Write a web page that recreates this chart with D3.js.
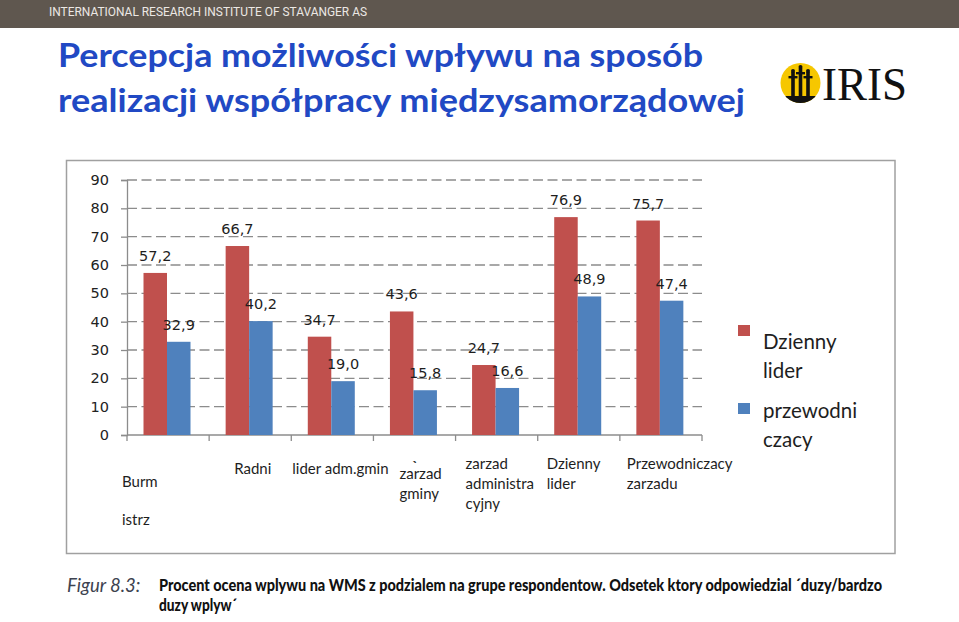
<!DOCTYPE html>
<html>
<head>
<meta charset="utf-8">
<script src="https://cdn.jsdelivr.net/npm/d3@7"></script>
<style>
  html, body { margin: 0; padding: 0; background: #ffffff; }
  svg { display: block; }
</style>
</head>
<body>
<svg id="chart" width="959" height="622"></svg>
<script>
// ---------- data ----------
const categories = ["Burmistrz", "Radni", "lider adm.gmin", "zarzad gminy", "zarzad administracyjny", "Dzienny lider", "Przewodniczacy zarzadu"];
const categoryLines = [["Burm", "istrz"], ["Radni"], ["lider adm.gmin"], ["zarzad", "gminy"], ["zarzad", "administra", "cyjny"], ["Dzienny", "lider"], ["Przewodniczacy", "zarzadu"]];
const seriesNames = ["Dzienny lider", "przewodniczacy"];
const legendLines = [["Dzienny", "lider"], ["przewodni", "czacy"]];
const dziennyLider = [57.2, 66.7, 34.7, 43.6, 24.7, 76.9, 75.7];
const przewodniczacy = [32.9, 40.2, 19.0, 15.8, 16.6, 48.9, 47.4];
const yTicks = [0, 10, 20, 30, 40, 50, 60, 70, 80, 90];

// ---------- layout (positions only) ----------
const labelDx = [-5, 25, 1, 26, 10, 9, 7];
const labelY = [487, 474, 474, 479, 469, 469, 469];
const labelLH = [38, 20, 20, 20, 20, 20, 20];
const colors = ["#c0504d", "#4f81bd"];

const svg = d3.select("#chart");

// header bar
svg.append("rect").attr("x", 0).attr("y", 0).attr("width", 959).attr("height", 28).attr("fill", "#5f574f");
svg.append("text").attr("x", 49).attr("y", 15.5)
  .attr("font-family", "Roboto, 'DejaVu Sans', sans-serif").attr("font-size", 13.5)
  .attr("fill", "#ece8e4").attr("textLength", 318).attr("lengthAdjust", "spacingAndGlyphs")
  .text("INTERNATIONAL RESEARCH INSTITUTE OF STAVANGER AS");

// title
const titleLines = ["Percepcja możliwości wpływu na sposób", "realizacji współpracy międzysamorządowej"];
const titleLen = [645, 687];
titleLines.forEach((t, i) => {
  svg.append("text").attr("x", 58).attr("y", 67 + i * 45)
    .attr("font-family", "Lato, 'Open Sans', sans-serif").attr("font-weight", "bold")
    .attr("font-size", 33).attr("fill", "#2149c4")
    .attr("textLength", titleLen[i]).attr("lengthAdjust", "spacingAndGlyphs")
    .text(t);
});

// IRIS logo
const logo = svg.append("g");
const defs = svg.append("defs");
defs.append("clipPath").attr("id", "logoClip").append("circle").attr("cx", 800.5).attr("cy", 83).attr("r", 20);
logo.append("circle").attr("cx", 800.5).attr("cy", 83).attr("r", 20).attr("fill", "#f6c700");
const lc = logo.append("g").attr("clip-path", "url(#logoClip)");
lc.append("rect").attr("x", 780).attr("y", 96).attr("width", 42).attr("height", 10).attr("fill", "#111");
[[793, 72], [800.5, 68], [808, 72]].forEach(([sx, sy]) => {
  lc.append("rect").attr("x", sx - 1.8).attr("y", sy).attr("width", 3.6).attr("height", 98 - sy).attr("fill", "#111");
  lc.append("rect").attr("x", sx - 4.5).attr("y", sy + 4).attr("width", 9).attr("height", 2.4).attr("fill", "#111");
  lc.append("circle").attr("cx", sx).attr("cy", sy - 1).attr("r", 2).attr("fill", "#111");
});
logo.append("text").attr("x", 822).attr("y", 100)
  .attr("font-family", "'Liberation Serif', 'DejaVu Serif', serif").attr("font-size", 47)
  .attr("fill", "#111").attr("textLength", 85).attr("lengthAdjust", "spacingAndGlyphs").text("IRIS");

// chart box
svg.append("rect").attr("x", 66.5).attr("y", 160.5).attr("width", 828.5).attr("height", 393)
  .attr("fill", "#ffffff").attr("stroke", "#a0a0a0").attr("stroke-width", 1.5);

// scales
const x0 = d3.scaleBand().domain(categories).range([127, 702]).paddingInner(0).paddingOuter(0);
const x1 = d3.scaleBand().domain(seriesNames).range([16.5, 63.5]);
const y = d3.scaleLinear().domain([0, 90]).range([435, 180]);

// gridlines
svg.append("g").selectAll("line").data(yTicks.filter(d => d > 0)).join("line")
  .attr("x1", 127).attr("x2", 702)
  .attr("y1", d => y(d)).attr("y2", d => y(d))
  .attr("stroke", "#8c8c8c").attr("stroke-width", 1.3).attr("stroke-dasharray", "10,4.5");

// y axis
const yAxis = svg.append("g").attr("transform", "translate(127,0)")
  .call(d3.axisLeft(y).tickValues(yTicks).tickSize(6).tickPadding(12).tickFormat(d3.format("d")));
yAxis.select(".domain").attr("stroke", "#8c8c8c").attr("stroke-width", 1.3);
yAxis.selectAll(".tick line").attr("stroke", "#8c8c8c").attr("stroke-width", 1.3);
yAxis.selectAll(".tick text").attr("font-family", "'DejaVu Sans', Verdana, sans-serif")
  .attr("font-size", 14.5).attr("fill", "#222");

// x axis
const xAxis = svg.append("g").attr("transform", "translate(0,435)");
xAxis.append("line").attr("x1", 127).attr("x2", 702).attr("y1", 0).attr("y2", 0)
  .attr("stroke", "#8c8c8c").attr("stroke-width", 1.3);
const boundaries = categories.map(c => x0(c)).concat([x0(categories[categories.length - 1]) + x0.bandwidth()]);
xAxis.selectAll("line.tk").data(boundaries).join("line").attr("class", "tk")
  .attr("x1", d => d).attr("x2", d => d).attr("y1", 0).attr("y2", 6)
  .attr("stroke", "#8c8c8c").attr("stroke-width", 1.3);

// bars
const seriesData = [dziennyLider, przewodniczacy];
const barData = [];
categories.forEach((c, i) => {
  seriesNames.forEach((s, j) => barData.push({ c, s, j, v: seriesData[j][i] }));
});
svg.append("g").selectAll("rect").data(barData).join("rect")
  .attr("x", d => x0(d.c) + x1(d.s))
  .attr("width", x1.bandwidth())
  .attr("y", d => y(d.v))
  .attr("height", d => y(0) - y(d.v))
  .attr("fill", d => colors[d.j]);

// value labels
const fmt = v => v.toFixed(1).replace(".", ",");
svg.append("g").selectAll("text").data(barData).join("text")
  .attr("x", d => x0(d.c) + x1(d.s) + x1.bandwidth() / 2)
  .attr("y", d => y(d.v) - 12)
  .attr("text-anchor", "middle")
  .attr("font-family", "'DejaVu Sans', Verdana, sans-serif").attr("font-size", 14.5)
  .attr("fill", "#1e1e1e")
  .text(d => fmt(d.v));

// category labels
categories.forEach((c, i) => {
  const t = svg.append("text")
    .attr("font-family", "Lato, 'Open Sans', sans-serif").attr("font-size", 15).attr("fill", "#1e1e1e");
  categoryLines[i].forEach((line, k) => {
    t.append("tspan").attr("x", x0(c) + labelDx[i]).attr("y", labelY[i] + k * labelLH[i]).text(line);
  });
});
// stray mark above "zarzad gminy"
svg.append("text").attr("x", x0(categories[3]) + 38).attr("y", 461)
  .attr("font-family", "Lato, sans-serif").attr("font-size", 14).attr("font-weight", "bold")
  .attr("fill", "#333").text("ˎ");

// legend
const legendSwatchY = [325, 403];
const legendTextY = [349, 418];
seriesNames.forEach((s, j) => {
  svg.append("rect").attr("x", 738).attr("y", legendSwatchY[j]).attr("width", 12).attr("height", 11).attr("fill", colors[j]);
  const t = svg.append("text").attr("font-family", "Lato, 'Open Sans', sans-serif")
    .attr("font-size", 20.5).attr("fill", "#1e1e1e");
  legendLines[j].forEach((line, k) => {
    t.append("tspan").attr("x", 763).attr("y", legendTextY[j] + k * 28.5).text(line);
  });
});

// caption
svg.append("text").attr("x", 67).attr("y", 592)
  .attr("font-family", "Lato, 'Open Sans', sans-serif").attr("font-style", "italic")
  .attr("font-size", 18.5).attr("fill", "#3d4350").text("Figur 8.3:");
const capLines = ["Procent ocena wplywu na WMS z podzialem na grupe respondentow. Odsetek ktory odpowiedzial ´duzy/bardzo", "duzy wplyw´"];
const capLen = [723, 78];
capLines.forEach((t, i) => {
  svg.append("text").attr("x", 159).attr("y", 591 + i * 19.5)
    .attr("font-family", "Lato, 'Open Sans', sans-serif").attr("font-weight", "900")
    .attr("font-size", 16).attr("fill", "#111")
    .attr("textLength", capLen[i]).attr("lengthAdjust", "spacingAndGlyphs")
    .text(t);
});
</script>
</body>
</html>
